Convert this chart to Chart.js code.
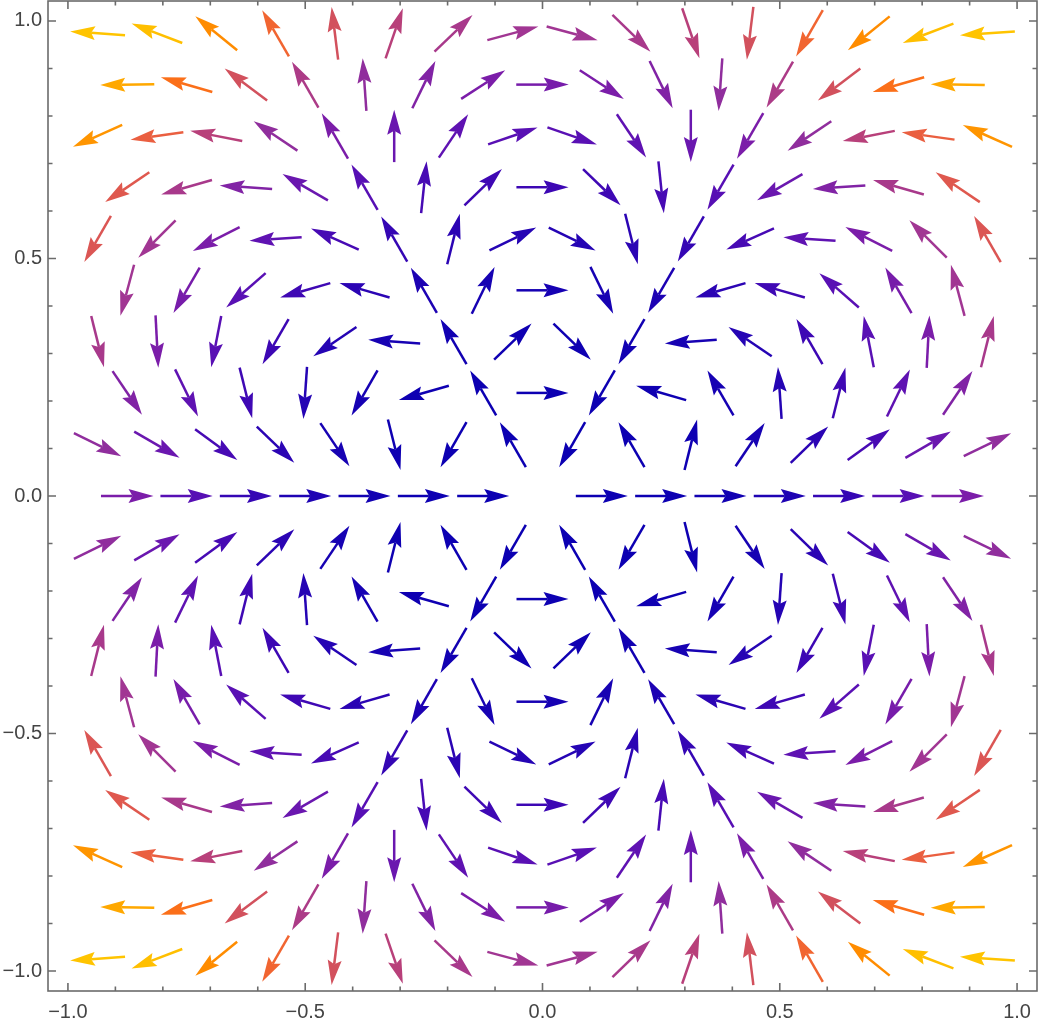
<!DOCTYPE html>
<html>
<head>
<meta charset="utf-8">
<script src="https://cdn.jsdelivr.net/npm/chart.js@4.4.1/dist/chart.umd.min.js"></script>
<style>
html, body { margin: 0; padding: 0; background: #fff; }
#wrap { position: relative; width: 1042px; height: 1023px; }
</style>
</head>
<body>
<div id="wrap"><canvas id="champ" width="1042" height="1023"></canvas></div>
<script>
// --- DONNEES (grille hexagonale) ---
const rowY = [0.974, 0.866, 0.758, 0.650, 0.541, 0.433, 0.325, 0.217, 0.108, 0,
              -0.108, -0.217, -0.325, -0.433, -0.541, -0.650, -0.758, -0.866, -0.974];
const xOdd = [-0.9375, -0.8125, -0.6875, -0.5625, -0.4375, -0.3125, -0.1875, -0.0625,
              0.0625, 0.1875, 0.3125, 0.4375, 0.5625, 0.6875, 0.8125, 0.9375];
const xEven = [-0.875, -0.75, -0.625, -0.5, -0.375, -0.25, -0.125, 0,
               0.125, 0.25, 0.375, 0.5, 0.625, 0.75, 0.875];

// direction of each arrow, degrees (0 = right, 90 = up)
const angleRows = [
  [176,159,141,120,97,71,44,15,345,316,289,263,240,219,201,184],
  [181,164,143,120,94,64,33,0,327,296,266,240,217,196,179],
  [204,188,169,146,120,90,56,19,341,304,270,240,214,191,172,156],
  [214,196,176,150,120,84,44,0,316,276,240,210,184,164,146],
  [240,225,207,184,156,120,76,26,334,284,240,204,176,153,135,120],
  [255,240,221,196,164,120,64,0,296,240,196,164,139,120,105],
  [284,273,259,240,214,176,120,44,316,240,184,146,120,101,87,76],
  [304,296,284,266,240,196,120,0,240,164,120,94,76,64,56],
  [334,330,324,316,304,284,240,120,240,120,76,56,44,36,30,26],
  [0,0,0,0,0,0,0,null,0,0,0,0,0,0,0],
  [26,30,36,44,56,76,120,240,120,240,284,304,316,324,330,334],
  [56,64,76,94,120,164,240,0,120,196,240,266,284,296,304],
  [76,87,101,120,146,184,240,316,44,120,176,214,240,259,273,284],
  [105,120,139,164,196,240,296,0,64,120,164,196,221,240,255],
  [120,135,153,176,204,240,284,334,26,76,120,156,184,207,225,240],
  [146,164,184,210,240,276,316,0,44,84,120,150,176,196,214],
  [156,172,191,214,240,270,304,341,19,56,90,120,146,169,188,204],
  [179,196,217,240,266,296,327,0,33,64,94,120,143,164,181],
  [184,201,219,240,263,289,316,345,15,44,71,97,120,141,159,176]
];

// magnitude of each arrow (drives the colour)
const magRows = [
  [3.34,2.59,2.02,1.60,1.30,1.10,0.97,0.91,0.91,0.97,1.10,1.30,1.60,2.02,2.59,3.34],
  [2.30,1.72,1.30,1.00,0.79,0.66,0.59,0.56,0.59,0.66,0.79,1.00,1.30,1.72,2.30],
  [2.11,1.52,1.10,0.79,0.59,0.45,0.37,0.33,0.33,0.37,0.45,0.59,0.79,1.10,1.52,2.11],
  [1.41,0.97,0.66,0.45,0.32,0.23,0.19,0.18,0.19,0.23,0.32,0.45,0.66,0.97,1.41],
  [1.37,0.91,0.59,0.37,0.23,0.15,0.11,0.09,0.09,0.11,0.15,0.23,0.37,0.59,0.91,1.37],
  [0.91,0.56,0.33,0.19,0.11,0.06,0.04,0.035,0.04,0.06,0.11,0.19,0.33,0.56,0.91],
  [0.97,0.59,0.33,0.18,0.09,0.04,0.02,0.012,0.012,0.02,0.04,0.09,0.18,0.33,0.59,0.97],
  [0.66,0.37,0.19,0.088,0.035,0.012,0.004,0.002,0.004,0.012,0.035,0.088,0.19,0.37,0.66],
  [0.79,0.45,0.23,0.11,0.041,0.012,0.002,0.0002,0.0002,0.002,0.012,0.041,0.11,0.23,0.45,0.79],
  [0.59,0.32,0.15,0.063,0.02,0.004,0.0002,0,0.0002,0.004,0.02,0.063,0.15,0.32,0.59],
  [0.79,0.45,0.23,0.11,0.041,0.012,0.002,0.0002,0.0002,0.002,0.012,0.041,0.11,0.23,0.45,0.79],
  [0.66,0.37,0.19,0.088,0.035,0.012,0.004,0.002,0.004,0.012,0.035,0.088,0.19,0.37,0.66],
  [0.97,0.59,0.33,0.18,0.09,0.04,0.02,0.012,0.012,0.02,0.04,0.09,0.18,0.33,0.59,0.97],
  [0.91,0.56,0.33,0.19,0.11,0.06,0.04,0.035,0.04,0.06,0.11,0.19,0.33,0.56,0.91],
  [1.37,0.91,0.59,0.37,0.23,0.15,0.11,0.09,0.09,0.11,0.15,0.23,0.37,0.59,0.91,1.37],
  [1.41,0.97,0.66,0.45,0.32,0.23,0.19,0.18,0.19,0.23,0.32,0.45,0.66,0.97,1.41],
  [2.11,1.52,1.10,0.79,0.59,0.45,0.37,0.33,0.33,0.37,0.45,0.59,0.79,1.10,1.52,2.11],
  [2.30,1.72,1.30,1.00,0.79,0.66,0.59,0.56,0.59,0.66,0.79,1.00,1.30,1.72,2.30],
  [3.34,2.59,2.02,1.60,1.30,1.10,0.97,0.91,0.91,0.97,1.10,1.30,1.60,2.02,2.59,3.34]
];

const majorTicks = [-1, -0.5, 0, 0.5, 1];
const minorTicks = [-1, -0.9, -0.8, -0.7, -0.6, -0.5, -0.4, -0.3, -0.2, -0.1, 0,
                    0.1, 0.2, 0.3, 0.4, 0.5, 0.6, 0.7, 0.8, 0.9, 1];

// --- COULEURS ---
const stops = [
  [0, 12, 0, 178], [0.03, 40, 4, 180], [0.06, 66, 8, 180], [0.10, 90, 16, 180],
  [0.14, 108, 24, 174], [0.18, 124, 30, 168], [0.22, 136, 42, 162], [0.27, 160, 54, 148],
  [0.33, 184, 64, 122], [0.40, 215, 84, 88], [0.46, 236, 96, 62], [0.52, 252, 112, 22],
  [0.58, 255, 132, 0], [0.64, 255, 152, 0], [0.70, 255, 172, 0], [0.78, 255, 192, 0],
  [1, 255, 196, 0]
];
function couleur(t) {
  t = Math.max(0, Math.min(1, t));
  for (let i = 1; i < stops.length; i++) {
    if (t <= stops[i][0]) {
      let a = stops[i - 1], b = stops[i], f = (t - a[0]) / (b[0] - a[0]);
      let r = Math.round(a[1] + f * (b[1] - a[1]));
      let g = Math.round(a[2] + f * (b[2] - a[2]));
      let bl = Math.round(a[3] + f * (b[3] - a[3]));
      return 'rgb(' + r + ',' + g + ',' + bl + ')';
    }
  }
  return 'rgb(255,196,0)';
}

// --- POINTS ---
let points = [];
rowY.forEach((y, i) => {
  let xs = (i % 2 === 0) ? xOdd : xEven;
  xs.forEach((x, j) => {
    if (angleRows[i][j] === null) return;
    points.push({ x: x, y: y, a: angleRows[i][j], m: magRows[i][j] });
  });
});
const magMax = Math.max(...magRows.map(r => Math.max(...r)));

// --- PLUGINS ---
const fleches = {
  id: 'fleches',
  afterDatasetsDraw(chart) {
    const ctx = chart.ctx, area = chart.chartArea;
    const meta = chart.getDatasetMeta(0);
    const pts = chart.data.datasets[0].data;
    ctx.save();
    ctx.beginPath();
    ctx.rect(area.left, area.top, area.right - area.left, area.bottom - area.top);
    ctx.clip();
    meta.data.forEach((el, i) => {
      let p = pts[i];
      let t = p.m / magMax;
      let L = 52 + 3 * t;
      let rad = p.a * Math.PI / 180;
      let ux = Math.cos(rad), uy = -Math.sin(rad);
      let nx = -uy, ny = ux;
      let tipX = el.x + ux * L / 2, tipY = el.y + uy * L / 2;
      let tailX = el.x - ux * L / 2, tailY = el.y - uy * L / 2;
      let hl = 25, hw = 7, notch = 4;
      let bx = tipX - ux * hl, by = tipY - uy * hl;
      let col = couleur(t);
      ctx.strokeStyle = col;
      ctx.lineWidth = 2.5;
      ctx.lineCap = 'butt';
      ctx.beginPath();
      ctx.moveTo(tailX, tailY);
      ctx.lineTo(bx + ux * notch, by + uy * notch);
      ctx.stroke();
      ctx.fillStyle = col;
      ctx.beginPath();
      ctx.moveTo(tipX, tipY);
      ctx.lineTo(bx + nx * hw, by + ny * hw);
      ctx.lineTo(bx + ux * notch, by + uy * notch);
      ctx.lineTo(bx - nx * hw, by - ny * hw);
      ctx.closePath();
      ctx.fill();
    });
    ctx.restore();
  }
};

const cadre = {
  id: 'cadre',
  afterDraw(chart) {
    const ctx = chart.ctx, a = chart.chartArea;
    const sx = chart.scales.x, sy = chart.scales.y;
    ctx.save();
    ctx.strokeStyle = '#6b6b6b';
    ctx.lineWidth = 1.6;
    ctx.strokeRect(a.left, a.top, a.right - a.left, a.bottom - a.top);
    ctx.beginPath();
    minorTicks.forEach(v => {
      let len = majorTicks.includes(v) ? 8 : 4.5;
      let px = sx.getPixelForValue(v), py = sy.getPixelForValue(v);
      ctx.moveTo(px, a.bottom); ctx.lineTo(px, a.bottom - len);
      ctx.moveTo(px, a.top); ctx.lineTo(px, a.top + len);
      ctx.moveTo(a.left, py); ctx.lineTo(a.left + len, py);
      ctx.moveTo(a.right, py); ctx.lineTo(a.right - len, py);
    });
    ctx.stroke();
    ctx.restore();
  }
};

function etiquette(v) {
  return (v < 0 ? '\u2212' : '') + Math.abs(v).toFixed(1);
}

const axeCommun = {
  type: 'linear',
  min: -1.042,
  max: 1.042,
  grid: { display: false, drawTicks: false },
  border: { display: false },
  afterBuildTicks: s => { s.ticks = majorTicks.map(v => ({ value: v })); },
  ticks: {
    callback: v => etiquette(v),
    color: '#444444',
    font: { family: 'Liberation Sans, Arial, sans-serif', size: 20 },
    autoSkip: false,
    maxRotation: 0
  }
};

// --- INITIALISATION ---
new Chart(document.getElementById('champ').getContext('2d'), {
  type: 'scatter',
  data: { datasets: [{ data: points, pointRadius: 0, pointHoverRadius: 0, showLine: false }] },
  options: {
    responsive: false,
    devicePixelRatio: 1,
    animation: false,
    events: [],
    layout: { padding: { top: 1, right: 5, left: 0, bottom: 0 } },
    plugins: { legend: { display: false }, tooltip: { enabled: false } },
    scales: {
      x: Object.assign({}, axeCommun, {
        position: 'bottom',
        afterFit: s => { s.height = 32; s.paddingLeft = 0; s.paddingRight = 0; },
        ticks: Object.assign({}, axeCommun.ticks, { padding: 9 })
      }),
      y: Object.assign({}, axeCommun, {
        position: 'left',
        afterFit: s => { s.width = 48; s.paddingTop = 0; s.paddingBottom = 0; },
        ticks: Object.assign({}, axeCommun.ticks, { padding: 6 })
      })
    }
  },
  plugins: [fleches, cadre]
});
</script>
</body>
</html>
